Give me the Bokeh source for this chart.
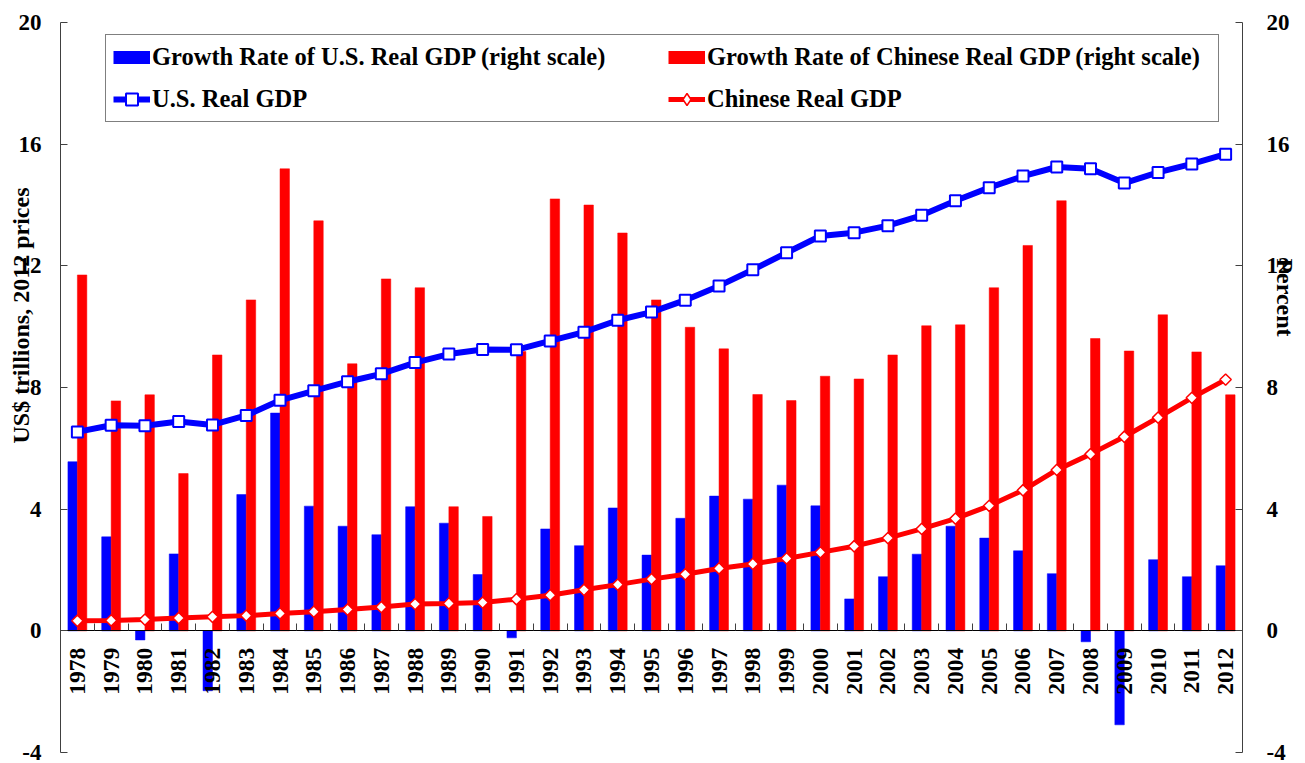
from math import pi
from bokeh.plotting import figure
from bokeh.models import (Range1d, LinearAxis, FixedTicker, Legend, LegendItem,
                          ColumnDataSource)
from bokeh.embed import file_html
from bokeh.resources import INLINE

years = [str(y) for y in range(1978, 2013)]

us_growth = [5.56, 3.09, -0.30, 2.53, -1.97, 4.48, 7.16, 4.10, 3.44, 3.16,
             4.08, 3.54, 1.85, -0.23, 3.35, 2.80, 4.04, 2.49, 3.70, 4.43,
             4.33, 4.79, 4.11, 1.05, 1.78, 2.52, 3.44, 3.05, 2.63, 1.88,
             -0.36, -3.09, 2.34, 1.78, 2.14]

cn_growth = [11.70, 7.56, 7.76, 5.17, 9.07, 10.88, 15.19, 13.48, 8.78, 11.57,
             11.28, 4.08, 3.76, 9.18, 14.20, 14.00, 13.08, 10.88, 9.98, 9.27,
             7.77, 7.57, 8.37, 8.28, 9.07, 10.03, 10.06, 11.28, 12.67, 14.14,
             9.61, 9.20, 10.39, 9.17, 7.76]

us_gdp = [6.54, 6.76, 6.74, 6.88, 6.77, 7.08, 7.58, 7.89, 8.19, 8.45,
          8.82, 9.10, 9.25, 9.24, 9.53, 9.82, 10.21, 10.48, 10.87, 11.34,
          11.87, 12.43, 12.98, 13.09, 13.32, 13.66, 14.14, 14.57, 14.95, 15.25,
          15.19, 14.72, 15.07, 15.35, 15.67]

cn_gdp = [0.33, 0.34, 0.37, 0.42, 0.46, 0.50, 0.57, 0.63, 0.70, 0.78,
          0.88, 0.90, 0.93, 1.04, 1.17, 1.35, 1.52, 1.70, 1.86, 2.05,
          2.20, 2.38, 2.58, 2.78, 3.05, 3.35, 3.69, 4.11, 4.62, 5.29,
          5.81, 6.38, 7.01, 7.66, 8.26]

y_ticks = [-4, 0, 4, 8, 12, 16, 20]

FONT = "Liberation Serif"
BLUE = "#0000FF"
RED = "#FF0000"
AXIS_COLOR = "#404040"
NBSP = "\u00a0"

n = len(years)
centers = [i + 0.5 for i in range(n)]
src = ColumnDataSource(dict(
    xc=centers,
    xus=[c - 0.14 for c in centers],
    xcn=[c + 0.14 for c in centers],
    us_growth=us_growth, cn_growth=cn_growth, us_gdp=us_gdp, cn_gdp=cn_gdp))

p = figure(width=1300, height=760,
           x_range=Range1d(0, n), y_range=Range1d(-4, 20),
           output_backend="svg", toolbar_location=None,
           x_axis_location=None, y_axis_location=None,
           min_border_left=60, min_border_right=55,
           min_border_top=22, min_border_bottom=8)
p.outline_line_color = None
p.grid.grid_line_color = None
p.background_fill_color = "white"

# bars (right scale, percent)
us_bar = p.vbar(x="xus", top="us_growth", width=0.28, source=src,
                fill_color=BLUE, line_color=BLUE, line_width=0.5)
cn_bar = p.vbar(x="xcn", top="cn_growth", width=0.28, source=src,
                fill_color=RED, line_color=RED, line_width=0.5)

# lines (left scale, US$ trillions)
us_line = p.line("xc", "us_gdp", source=src, line_color=BLUE, line_width=6)
us_pts = p.scatter("xc", "us_gdp", source=src, marker="square", size=11,
                   fill_color="white", line_color=BLUE, line_width=2)
cn_line = p.line("xc", "cn_gdp", source=src, line_color=RED, line_width=5)
cn_pts = p.scatter("xc", "cn_gdp", source=src, marker="square", angle=pi / 4, size=8,
                   fill_color="white", line_color=RED, line_width=1.5)

# legend swatches (not drawn in the plot area)
nan = float("nan")
us_bar_key = p.line(x=[0.5], y=[nan], line_color=BLUE, line_width=13, line_cap="butt")
cn_bar_key = p.line(x=[0.5], y=[nan], line_color=RED, line_width=13, line_cap="butt")
cn_pt_key = p.scatter(x=[0.5], y=[nan], marker="diamond", fill_color="white",
                      line_color=RED, line_width=1.5)

# year labels at y = 0
xaxis = LinearAxis(fixed_location=0,
                   ticker=FixedTicker(ticks=centers, minor_ticks=[]),
                   major_label_overrides={c: y for c, y in zip(centers, years)},
                   major_tick_in=0, major_tick_out=0, minor_tick_in=0, minor_tick_out=0,
                   major_label_orientation=pi / 2, major_label_standoff=17,
                   major_label_text_font=FONT, major_label_text_font_style="bold",
                   major_label_text_font_size="23.5px", major_label_text_color="black",
                   axis_line_color="black", axis_line_width=1)
p.add_layout(xaxis, "below")

# category boundary ticks at y = 0
tick_axis = LinearAxis(fixed_location=0,
                       ticker=FixedTicker(ticks=list(range(n + 1)), minor_ticks=[]),
                       major_tick_in=7, major_tick_out=0, minor_tick_in=0, minor_tick_out=0,
                       major_tick_line_color=AXIS_COLOR,
                       major_label_overrides={i: "" for i in range(n + 1)},
                       axis_line_color="black")
p.add_layout(tick_axis, "below")

left_title = NBSP * 24 + "US$ trillions, 2012 prices"
right_title = "Percent" + NBSP * 30
for loc, standoff, title, title_off in (("left", 19, left_title, -18),
                                        ("right", 24, right_title, -21)):
    ax = LinearAxis(ticker=FixedTicker(ticks=y_ticks, minor_ticks=[]),
                    major_tick_in=7, major_tick_out=0, minor_tick_in=0, minor_tick_out=0,
                    major_label_standoff=standoff,
                    major_label_overrides={t: str(t) for t in y_ticks},
                    major_label_text_font=FONT, major_label_text_font_style="bold",
                    major_label_text_font_size="23px", major_label_text_color="black",
                    axis_label=title, axis_label_standoff=title_off,
                    axis_label_text_font=FONT, axis_label_text_font_style="bold",
                    axis_label_text_font_size="24px", axis_label_text_color="black",
                    axis_line_color=AXIS_COLOR, major_tick_line_color=AXIS_COLOR)
    p.add_layout(ax, loc)

legend = Legend(items=[
    LegendItem(label="Growth Rate of U.S. Real GDP (right scale)", renderers=[us_bar_key]),
    LegendItem(label="U.S. Real GDP", renderers=[us_line, us_pts]),
    LegendItem(label="Growth Rate of Chinese Real GDP (right scale)", renderers=[cn_bar_key]),
    LegendItem(label="Chinese Real GDP", renderers=[cn_line, cn_pt_key]),
], ncols=2, location=(45, 630),
    label_text_font=FONT, label_text_font_style="bold", label_text_font_size="24.5px",
    label_text_color="black",
    glyph_width=37, glyph_height=30, label_standoff=2, label_width=504,
    spacing=12, padding=7, margin=0,
    border_line_color="black", border_line_width=1,
    background_fill_color="white", background_fill_alpha=1)
p.add_layout(legend, "center")

open("out.html", "w").write(file_html(p, INLINE))
